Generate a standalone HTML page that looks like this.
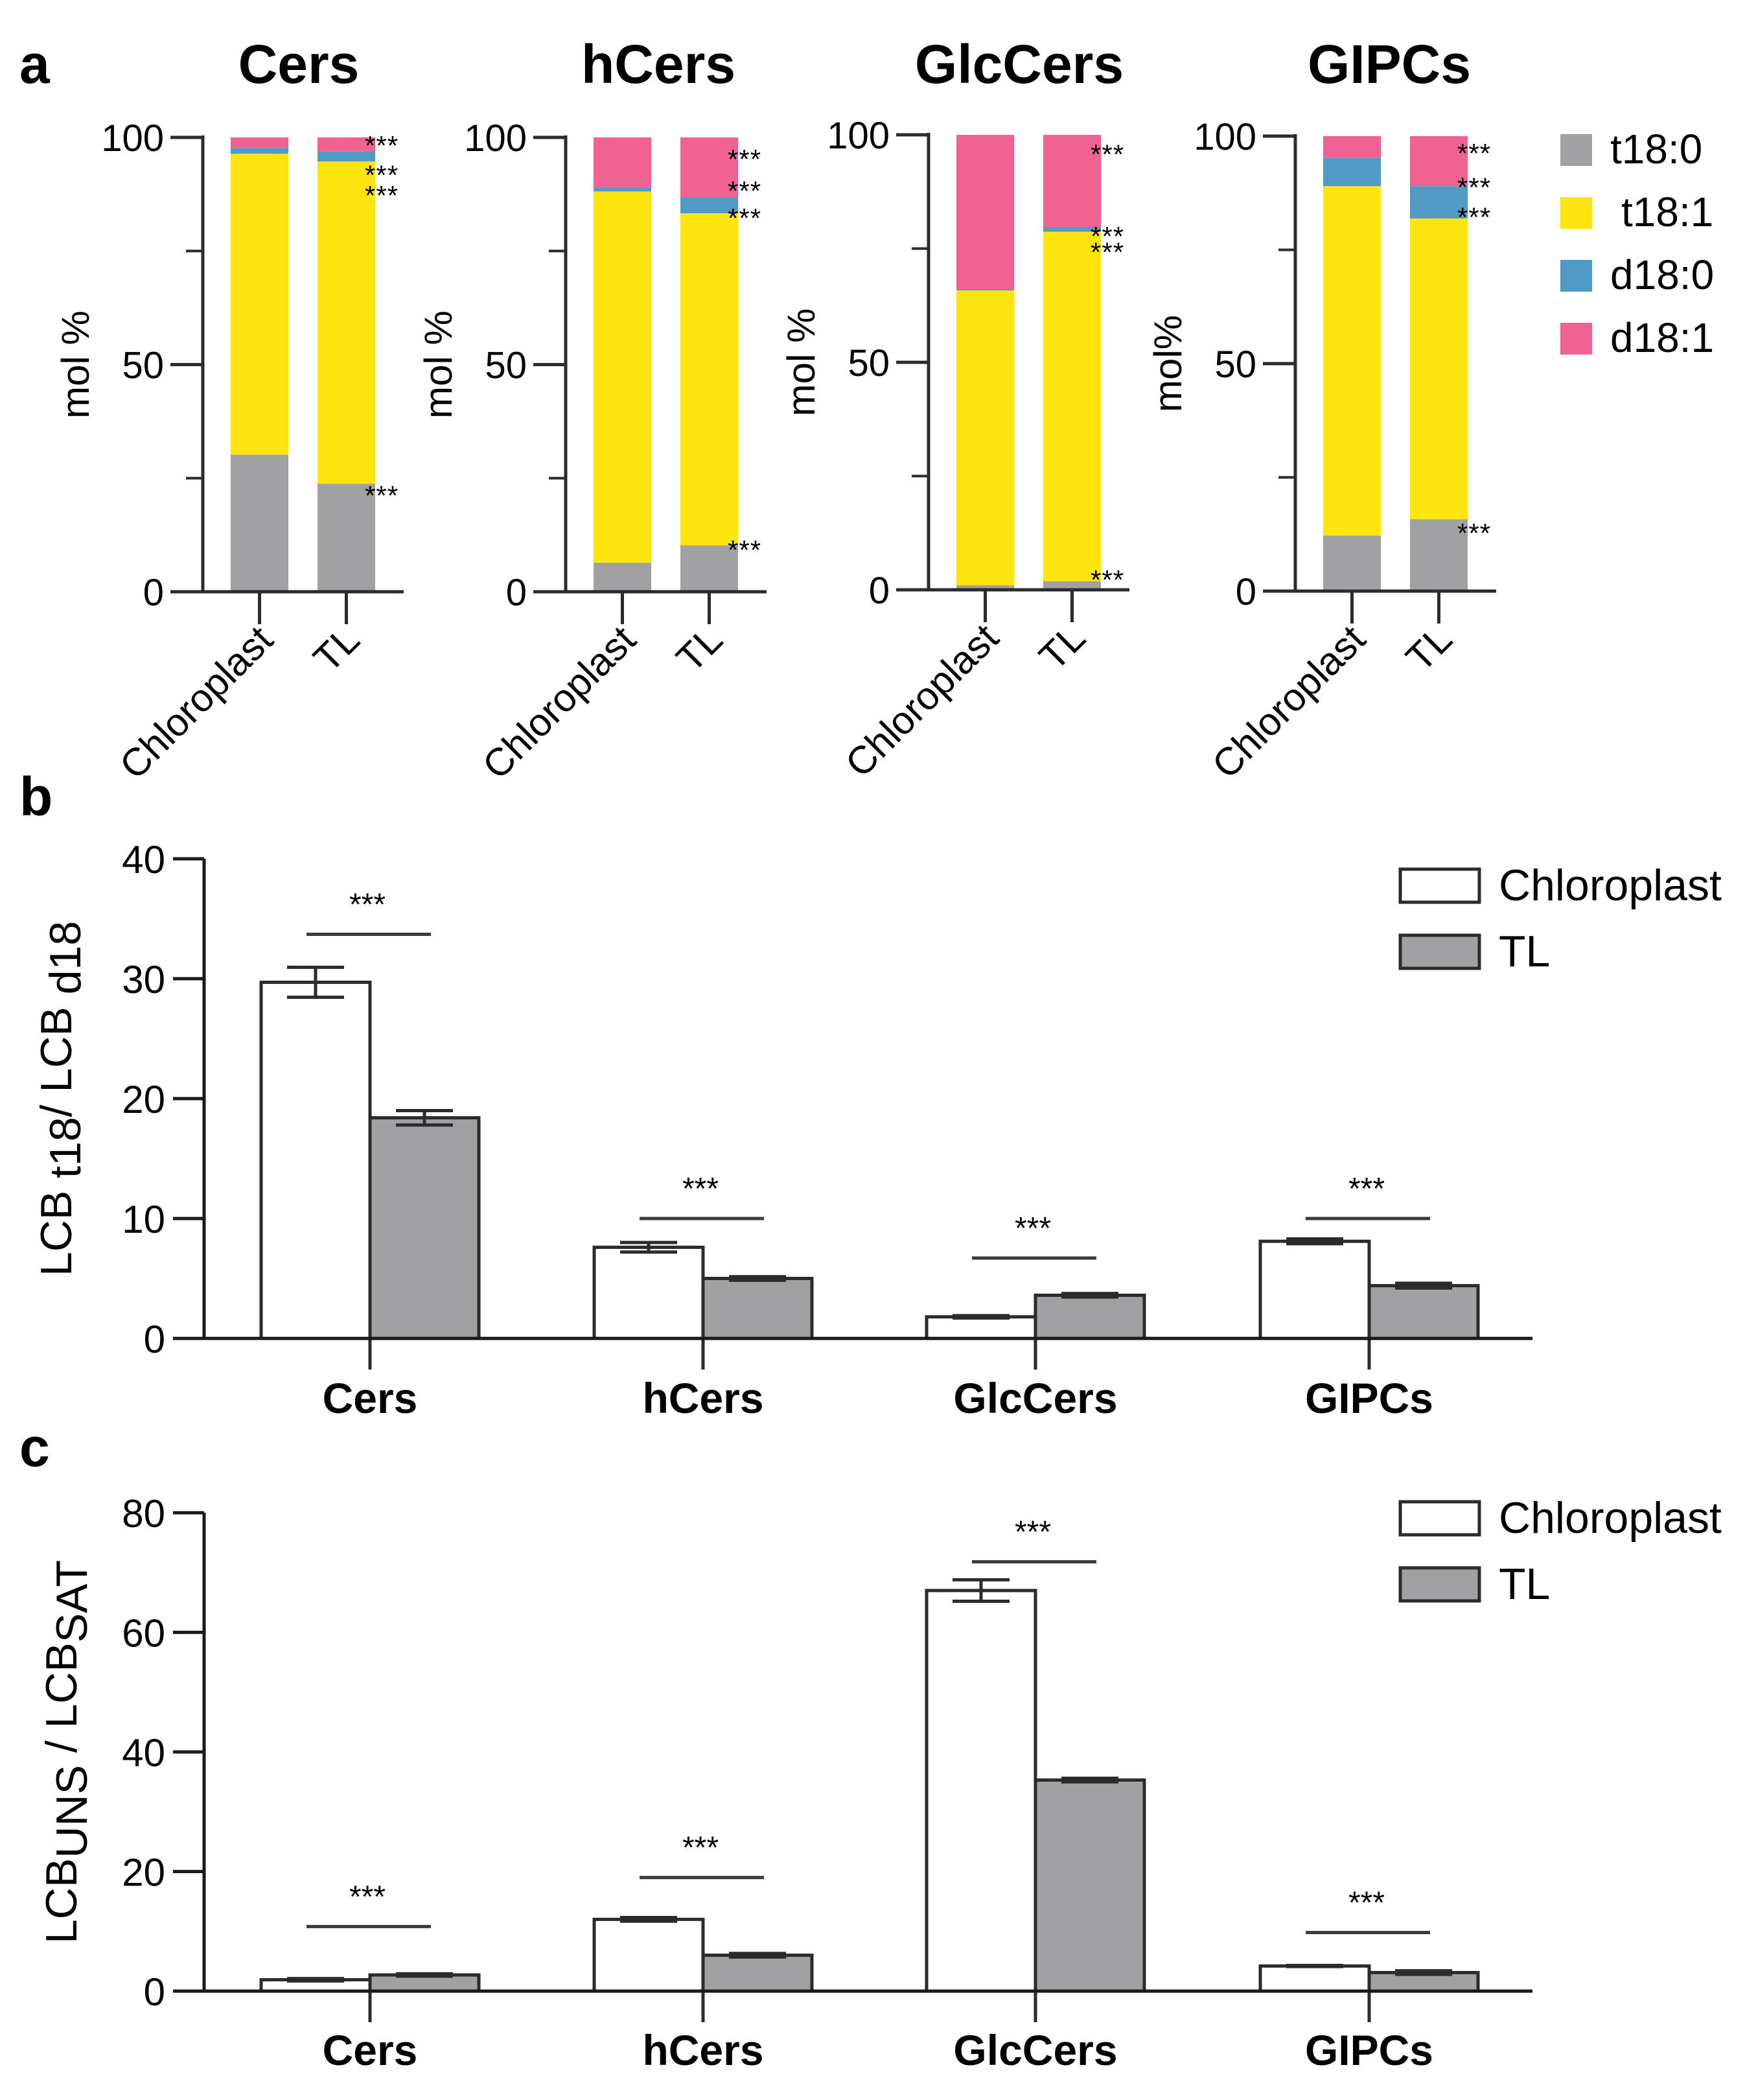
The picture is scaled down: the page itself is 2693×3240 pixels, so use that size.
<!DOCTYPE html>
<html><head><meta charset="utf-8"><style>
html,body{margin:0;padding:0;background:#fff}
svg{display:block;font-family:"Liberation Sans",Arial,sans-serif}
</style></head><body>
<svg id="fig" width="2693" height="3240" viewBox="0 0 2693 3240" xmlns="http://www.w3.org/2000/svg">
<rect width="2693" height="3240" fill="#fff"/>
<text x="30" y="128" font-size="84" font-weight="bold">a</text>
<text x="30" y="1258" font-size="84" font-weight="bold">b</text>
<text x="30" y="2262" font-size="84" font-weight="bold">c</text>
<g id="pa"></g><g id="pb"></g><g id="pc"></g>
</svg>
<script>
// ---------- Panel a data ----------
const aTitles = ["Cers","hCers","GlcCers","GIPCs"];
const aGroups = ["Chloroplast","TL"];
const aYTicks = [0,50,100];
const aYLabels = ["mol %","mol %","mol %","mol%"];
const aT180 = [[30.2,23.8],[6.4,10.2],[1.0,1.9],[12.2,15.8]];
const aT181 = [[66.2,70.9],[81.7,73.1],[64.8,76.8],[76.8,66.1]];
const aD180 = [[1.3,2.2],[0.9,3.5],[0.3,1.0],[6.2,7.1]];
const aD181 = [[2.3,3.1],[11.0,13.2],[33.9,20.3],[4.8,11.0]];
const aStarsVal = [[99,92.5,88,22],[96,89,83,10],[96.5,78.5,75,3],[97,89.5,83,13.5]];
const aSeries = ["t18:0","t18:1","d18:0","d18:1"];
const aColors = ["#a1a1a4","#ffe510","#529ac6","#f06292"];
// ---------- Panel b data ----------
const bCats = ["Cers","hCers","GlcCers","GIPCs"];
const bChloro = [29.7,7.6,1.8,8.1];
const bChloroErr = [1.25,0.4,0.1,0.2];
const bTL = [18.4,5.0,3.6,4.4];
const bTLErr = [0.6,0.15,0.15,0.2];
const bSig = [33.7,10,6.7,10];
const bTicks = [0,10,20,30,40];
// ---------- Panel c data ----------
const cCats = ["Cers","hCers","GlcCers","GIPCs"];
const cChloro = [1.9,12.0,67.0,4.2];
const cChloroErr = [0.2,0.3,1.8,0.1];
const cTL = [2.7,6.0,35.3,3.1];
const cTLErr = [0.2,0.3,0.3,0.3];
const cSig = [10.8,19,71.8,9.8];
const cTicks = [0,20,40,60,80];

const NS="http://www.w3.org/2000/svg";
function mk(parent,tag,attrs,txt){const e=document.createElementNS(NS,tag);for(const k in attrs)e.setAttribute(k,attrs[k]);if(txt!==undefined)e.textContent=txt;parent.appendChild(e);return e;}

// ---------- Panel a ----------
const pa=document.getElementById('pa');
const aAxisX=[313,873,1433,1999];
const aTop=[212,212,208,210], aBot=[913,913,910,912];
const aTitleX=[461,1016,1573,2144];
for(let p=0;p<4;p++){
  const ax=aAxisX[p], y0=aBot[p], y1=aTop[p];
  const ys=v=>y0-(y0-y1)*v/100;
  const g=mk(pa,'g',{});
  
  
  const t=mk(g,'text',{x:aTitleX[p],y:128,'font-size':84,'font-weight':'bold','text-anchor':'middle'},aTitles[p]);
  
  
  for(let gi=0;gi<2;gi++){
    const bx=ax+43+gi*134, bw=89;
    const vals=[aT180[p][gi],aT181[p][gi],aD180[p][gi],aD181[p][gi]];
    let acc=0;
    for(let s=0;s<4;s++){
      const r=mk(g,'rect',{x:bx,y:ys(acc+vals[s]),width:bw,height:ys(acc)-ys(acc+vals[s]),fill:aColors[s]});
      
      
      acc+=vals[s];
    }
    const tx=bx+bw/2;
    mk(g,'line',{x1:tx,y1:y0,x2:tx,y2:y0+50,stroke:'#2b2b2b','stroke-width':5});
    const lb=mk(g,'text',{x:0,y:0,'font-size':60,'text-anchor':'end',transform:`translate(${tx+24},${y0+78}) rotate(-45)`},aGroups[gi]);
    
    
  }
  for(const sv of aStarsVal[p]){
    const st=mk(g,'text',{x:ax+250,y:ys(sv)+20,'font-size':42,'letter-spacing':1},'***');
    
    
  }
  mk(g,'line',{x1:ax,y1:y1-3,x2:ax,y2:y0,stroke:'#2b2b2b','stroke-width':5});
  mk(g,'line',{x1:ax-50,y1:y0,x2:ax+310,y2:y0,stroke:'#2b2b2b','stroke-width':5});
  for(const tv of aYTicks){
    mk(g,'line',{x1:ax-50,y1:ys(tv),x2:ax,y2:ys(tv),stroke:'#2b2b2b','stroke-width':5});
    const tl=mk(g,'text',{x:ax-60,y:ys(tv)+21,'font-size':58,'text-anchor':'end'},String(tv));
    
    
  }
  for(const tv of [25,75]) mk(g,'line',{x1:ax-26,y1:ys(tv),x2:ax,y2:ys(tv),stroke:'#2b2b2b','stroke-width':4});
  const yl=mk(g,'text',{x:0,y:0,'font-size':60,'text-anchor':'middle',transform:`translate(${ax-176},${(y0+y1)/2}) rotate(-90)`},aYLabels[p]);
  
  
}
for(let s=0;s<4;s++){
  const ly=207+s*97;
  const sw=mk(pa,'rect',{x:2408,y:ly,width:49,height:49,fill:aColors[s]});
  
  
  const lt=mk(pa,'text',{x:s==1?2502:2485,y:ly+45,'font-size':64},aSeries[s]);
  
  
}

// ---------- grouped bars b / c ----------
function grouped(gid,name,cats,chl,chlE,tl,tlE,sig,ticks,yTop,yBot,legY,ylabelParts,ylx,catY){
  const root=document.getElementById(gid);
  
  
  const ax=315, xEnd=2365, maxV=ticks[ticks.length-1];
  const ys=v=>yBot-(yBot-yTop)*v/maxV;
  const centers=[571,1085,1598,2113];
  for(let i=0;i<cats.length;i++){
    const c=centers[i], bw=168;
    const b1=mk(root,'rect',{x:c-bw,y:ys(chl[i]),width:bw,height:ys(0)-ys(chl[i]),fill:'#fff',stroke:'#2b2b2b','stroke-width':5});
    
    
    const b2=mk(root,'rect',{x:c,y:ys(tl[i]),width:bw,height:ys(0)-ys(tl[i]),fill:'#a1a1a4',stroke:'#2b2b2b','stroke-width':5});
    
    
    [[c-bw/2,chl[i],chlE[i]],[c+bw/2,tl[i],tlE[i]]].forEach(([ex,v,e])=>{
      mk(root,'line',{x1:ex,y1:ys(v+e),x2:ex,y2:ys(v-e),stroke:'#2b2b2b','stroke-width':5});
      mk(root,'line',{x1:ex-44,y1:ys(v+e),x2:ex+44,y2:ys(v+e),stroke:'#2b2b2b','stroke-width':5});
      mk(root,'line',{x1:ex-44,y1:ys(v-e),x2:ex+44,y2:ys(v-e),stroke:'#2b2b2b','stroke-width':5});
    });
    const sl=mk(root,'line',{x1:c-98,y1:ys(sig[i]),x2:c+94,y2:ys(sig[i]),stroke:'#3a3a3a','stroke-width':5});
    
    
    const st=mk(root,'text',{x:c-4,y:ys(sig[i])-30,'font-size':48,'text-anchor':'middle'},'***');
    
    
    mk(root,'line',{x1:c,y1:yBot,x2:c,y2:yBot+48,stroke:'#2b2b2b','stroke-width':5});
    const cl=mk(root,'text',{x:c,y:catY,'font-size':66,'font-weight':'bold','text-anchor':'middle'},cats[i]);
    
    
  }
  mk(root,'line',{x1:ax,y1:yTop,x2:ax,y2:yBot,stroke:'#1a1a1a','stroke-width':5});
  mk(root,'line',{x1:ax-48,y1:yBot,x2:xEnd,y2:yBot,stroke:'#1a1a1a','stroke-width':5});
  for(const tv of ticks){
    mk(root,'line',{x1:ax-48,y1:ys(tv),x2:ax,y2:ys(tv),stroke:'#1a1a1a','stroke-width':5});
    const tl=mk(root,'text',{x:ax-60,y:ys(tv)+22,'font-size':60,'text-anchor':'end'},String(tv));
    
    
  }
  const yl=mk(root,'text',{x:0,y:0,'font-size':68,'text-anchor':'middle',transform:`translate(${ylx},${(yTop+yBot)/2}) rotate(-90)`});
  
  
  ylabelParts.forEach(([t,dy])=>{mk(yl,'tspan',{dy:dy},t);});
  const lg=[["Chloroplast","#fff"],["TL","#a1a1a4"]];
  lg.forEach(([t,f],k)=>{
    const r=mk(root,'rect',{x:2161,y:legY+k*102,width:122,height:51,fill:f,stroke:'#2b2b2b','stroke-width':5});
    
    
    const lt=mk(root,'text',{x:2313,y:legY+k*102+48,'font-size':68},t);
    
    
  });
}
grouped('pb','chart-b-t18-d18-ratio',bCats,bChloro,bChloroErr,bTL,bTLErr,bSig,bTicks,1325,2065,1341,
  [["LCB",0],[" t18",14],["/ LCB",-14],[" d18",14]],110,2180);
grouped('pc','chart-c-uns-sat-ratio',cCats,cChloro,cChloroErr,cTL,cTLErr,cSig,cTicks,2334,3072,2317,
  [["LCB",0],["UNS",16],[" / LCB",-16],["SAT",16]],118,3186);
</script>
</body></html>
